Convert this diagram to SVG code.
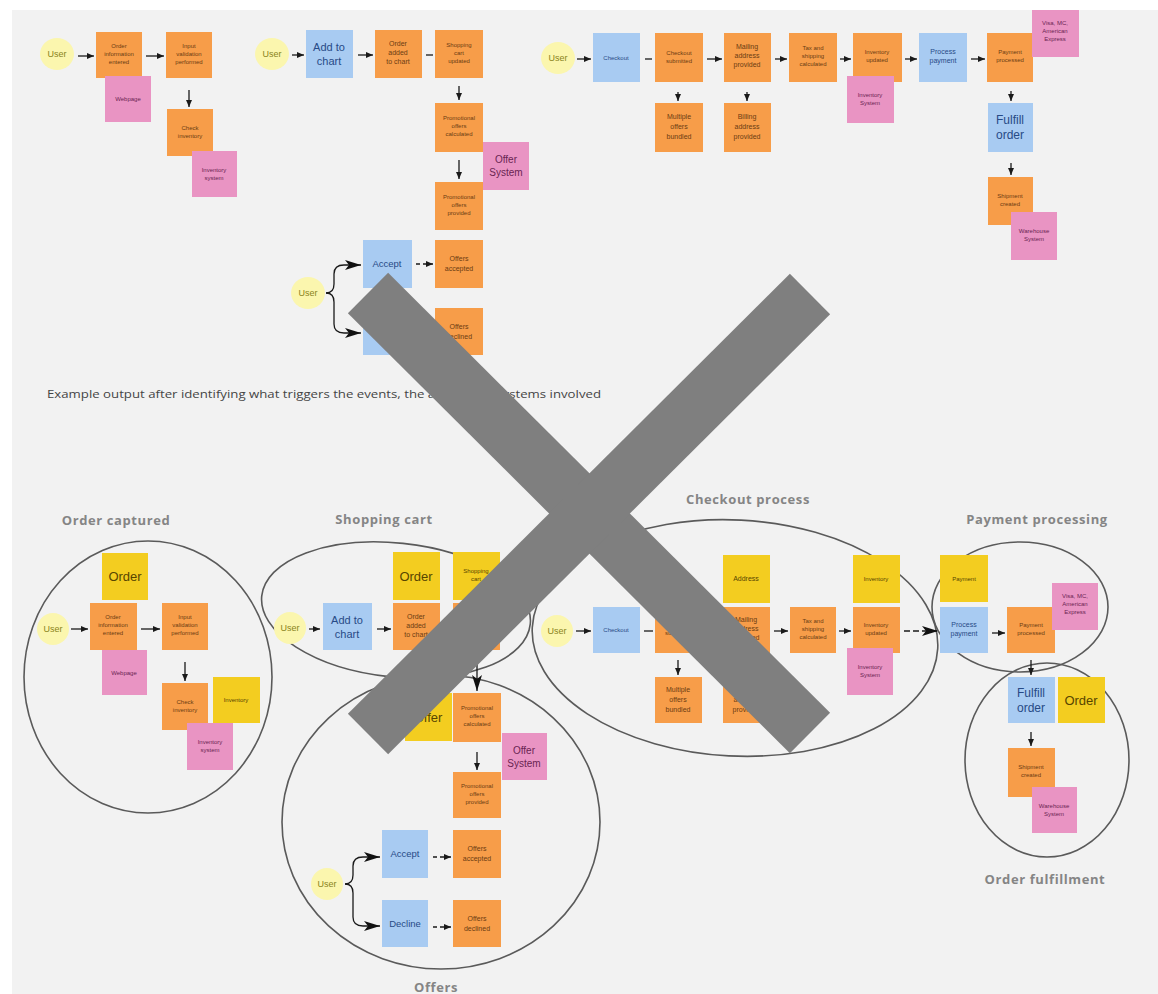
<svg xmlns="http://www.w3.org/2000/svg" width="1158" height="994" viewBox="0 0 1158 994">
<defs>
<marker id="a" markerUnits="userSpaceOnUse" markerWidth="7" markerHeight="6" refX="7" refY="3" orient="auto"><path d="M0,0 L7,3 L0,6 z" fill="#1a1a1a"/></marker>
<marker id="A" markerUnits="userSpaceOnUse" markerWidth="16" markerHeight="10" refX="16" refY="5" orient="auto"><path d="M0,0 L16,5 L0,10 L4,5 z" fill="#111"/></marker>
<style>
.o{fill:#f79d49}.b{fill:#a8cbf2}.p{fill:#e994c3}.y{fill:#f3cd20}.u{fill:#fbf6ae}
text{font-family:"Liberation Sans",Arial,sans-serif;text-anchor:middle}
.s{font-size:6px}.m{font-size:7px}.l{font-size:11px}.xl{font-size:13px}
.ot{fill:#6b3c12}.bt{fill:#274a86}.pt{fill:#6a2452}.yt{fill:#574500}.ut{fill:#8a8420;font-size:9px}
.ttl{font-family:"Open Sans","DejaVu Sans",sans-serif;font-weight:bold;font-size:13px;fill:#858585;letter-spacing:0.6px}
.cap{font-family:"Open Sans","DejaVu Sans",sans-serif;font-size:11px;fill:#444;text-anchor:start}
.c{fill:none;stroke:#1a1a1a;stroke-width:1.3}
.e{fill:none;stroke:#5a5a5a;stroke-width:1.6}
</style>
</defs>
<rect x="0" y="0" width="1158" height="994" fill="#ffffff"/>
<rect x="12" y="10" width="1146" height="984" fill="#f2f2f2"/>

<!-- ===== TOP LEFT ===== -->
<g id="tl-user"><ellipse class="u" cx="57" cy="54" rx="17" ry="16"/><text class="ut" x="57" y="57">User</text></g>
<g id="tl-order-entered"><rect class="o" x="96" y="32" width="46" height="46"/><text class="s ot" x="119" y="48">Order</text><text class="s ot" x="119" y="56">information</text><text class="s ot" x="119" y="64">entered</text></g>
<g id="tl-input-validated"><rect class="o" x="166" y="32" width="46" height="46"/><text class="s ot" x="189" y="48">Input</text><text class="s ot" x="189" y="56">validation</text><text class="s ot" x="189" y="64">performed</text></g>
<g id="tl-webpage"><rect class="p" x="105" y="76" width="46" height="46"/><text class="s pt" x="128" y="101">Webpage</text></g>
<g id="tl-check-inventory"><rect class="o" x="167" y="109" width="46" height="47"/><text class="s ot" x="190" y="130">Check</text><text class="s ot" x="190" y="138">inventory</text></g>
<g id="tl-inventory-system"><rect class="p" x="192" y="151" width="45" height="46"/><text class="s pt" x="214" y="172">Inventory</text><text class="s pt" x="214" y="180">system</text></g>

<!-- ===== TOP MIDDLE ===== -->
<g id="tm-user"><ellipse class="u" cx="272" cy="54" rx="17" ry="16"/><text class="ut" x="272" y="57">User</text></g>
<g id="tm-add-to-chart"><rect class="b" x="306" y="30" width="47" height="48"/><text class="l bt" x="329" y="51">Add to</text><text class="l bt" x="329" y="65">chart</text></g>
<g id="tm-order-added"><rect class="o" x="375" y="30" width="47" height="48"/><text class="m ot" x="398" y="46">Order</text><text class="m ot" x="398" y="55">added</text><text class="m ot" x="398" y="64">to chart</text></g>
<g id="tm-cart-updated"><rect class="o" x="435" y="30" width="48" height="48"/><text class="s ot" x="459" y="47">Shopping</text><text class="s ot" x="459" y="55">cart</text><text class="s ot" x="459" y="63">updated</text></g>
<g id="tm-offers-calc"><rect class="o" x="435" y="103" width="48" height="49"/><text class="s ot" x="459" y="120">Promotional</text><text class="s ot" x="459" y="128">offers</text><text class="s ot" x="459" y="136">calculated</text></g>
<g id="tm-offer-system"><rect class="p" x="483" y="142" width="46" height="48"/><text class="pt" style="font-size:10px" x="506" y="163">Offer</text><text class="pt" style="font-size:10px" x="506" y="176">System</text></g>
<g id="tm-offers-provided"><rect class="o" x="435" y="182" width="48" height="48"/><text class="s ot" x="459" y="199">Promotional</text><text class="s ot" x="459" y="207">offers</text><text class="s ot" x="459" y="215">provided</text></g>
<g id="tm-accept"><rect class="b" x="363" y="240" width="49" height="48"/><text class="bt" style="font-size:9.5px" x="387" y="267">Accept</text></g>
<g id="tm-offers-accepted"><rect class="o" x="435" y="240" width="48" height="48"/><text class="m ot" x="459" y="261">Offers</text><text class="m ot" x="459" y="271">accepted</text></g>
<g id="tm-decline"><rect class="b" x="363" y="308" width="49" height="47"/><text class="bt" style="font-size:9.5px" x="387" y="335">Decline</text></g>
<g id="tm-offers-declined"><rect class="o" x="435" y="308" width="48" height="47"/><text class="m ot" x="459" y="329">Offers</text><text class="m ot" x="459" y="339">declined</text></g>
<g id="tm-user2"><ellipse class="u" cx="308" cy="293" rx="17" ry="16"/><text class="ut" x="308" y="296">User</text></g>

<!-- ===== TOP RIGHT ===== -->
<g id="tr-user"><ellipse class="u" cx="558" cy="58" rx="17" ry="16"/><text class="ut" x="558" y="61">User</text></g>
<g id="tr-checkout"><rect class="b" x="593" y="33" width="47" height="49"/><text class="s bt" x="616" y="60">Checkout</text></g>
<g id="tr-checkout-submitted"><rect class="o" x="655" y="33" width="48" height="49"/><text class="s ot" x="679" y="55">Checkout</text><text class="s ot" x="679" y="63">submitted</text></g>
<g id="tr-mailing"><rect class="o" x="724" y="33" width="47" height="49"/><text class="m ot" x="747" y="49">Mailing</text><text class="m ot" x="747" y="58">address</text><text class="m ot" x="747" y="67">provided</text></g>
<g id="tr-tax"><rect class="o" x="789" y="33" width="48" height="49"/><text class="s ot" x="813" y="50">Tax and</text><text class="s ot" x="813" y="58">shipping</text><text class="s ot" x="813" y="66">calculated</text></g>
<g id="tr-inv-updated"><rect class="o" x="853" y="33" width="49" height="49"/><text class="s ot" x="877" y="54">Inventory</text><text class="s ot" x="877" y="62">updated</text></g>
<g id="tr-inv-system"><rect class="p" x="847" y="76" width="47" height="47"/><text class="s pt" x="870" y="97">Inventory</text><text class="s pt" x="870" y="105">System</text></g>
<g id="tr-process-payment"><rect class="b" x="919" y="33" width="48" height="49"/><text class="m bt" x="943" y="54">Process</text><text class="m bt" x="943" y="63">payment</text></g>
<g id="tr-payment-processed"><rect class="o" x="987" y="33" width="46" height="49"/><text class="s ot" x="1010" y="54">Payment</text><text class="s ot" x="1010" y="62">processed</text></g>
<g id="tr-visa"><rect class="p" x="1032" y="10" width="47" height="47"/><text class="s pt" x="1055" y="25">Visa, MC,</text><text class="s pt" x="1055" y="33">American</text><text class="s pt" x="1055" y="41">Express</text></g>
<g id="tr-multi-offers"><rect class="o" x="655" y="103" width="48" height="49"/><text class="m ot" x="679" y="119">Multiple</text><text class="m ot" x="679" y="129">offers</text><text class="m ot" x="679" y="139">bundled</text></g>
<g id="tr-billing"><rect class="o" x="724" y="103" width="47" height="49"/><text class="m ot" x="747" y="119">Billing</text><text class="m ot" x="747" y="129">address</text><text class="m ot" x="747" y="139">provided</text></g>
<g id="tr-fulfill"><rect class="b" x="988" y="103" width="45" height="49"/><text class="bt" style="font-size:12px" x="1010" y="124">Fulfill</text><text class="bt" style="font-size:12px" x="1010" y="139">order</text></g>
<g id="tr-shipment"><rect class="o" x="988" y="177" width="45" height="48"/><text class="s ot" x="1010" y="198">Shipment</text><text class="s ot" x="1010" y="206">created</text></g>
<g id="tr-warehouse"><rect class="p" x="1011" y="212" width="46" height="48"/><text class="s pt" x="1034" y="233">Warehouse</text><text class="s pt" x="1034" y="241">System</text></g>

<text id="caption" class="cap" x="47" y="398" textLength="554" lengthAdjust="spacingAndGlyphs">Example output after identifying what triggers the events, the actors and systems involved</text>

<!-- ===== BOTTOM: boundaries ===== -->
<g id="boundaries">
<ellipse class="e" cx="148" cy="677" rx="124" ry="136"/>
<ellipse class="e" cx="396" cy="610" rx="135" ry="67" transform="rotate(6 396 610)"/>
<ellipse class="e" cx="441" cy="822" rx="159" ry="147"/>
<ellipse class="e" cx="735" cy="638" rx="203" ry="118" transform="rotate(3 735 638)"/>
<ellipse class="e" cx="1020" cy="607" rx="88" ry="65"/>
<ellipse class="e" cx="1047" cy="760" rx="82" ry="97"/>
</g>
<g id="titles">
<text class="ttl" x="116" y="525">Order captured</text>
<text class="ttl" x="384" y="524">Shopping cart</text>
<text class="ttl" x="748" y="504">Checkout process</text>
<text class="ttl" x="1037" y="524">Payment processing</text>
<text class="ttl" x="1045" y="884">Order fulfillment</text>
<text class="ttl" x="436" y="992">Offers</text>
</g>

<!-- Order captured -->
<g id="b-oc-order"><rect class="y" x="102" y="553" width="46" height="47"/><text class="xl yt" x="125" y="581">Order</text></g>
<g id="b-oc-user"><ellipse class="u" cx="53" cy="629" rx="16" ry="16"/><text class="ut" x="53" y="632">User</text></g>
<g id="b-oc-entered"><rect class="o" x="90" y="603" width="47" height="47"/><text class="s ot" x="113" y="619">Order</text><text class="s ot" x="113" y="627">information</text><text class="s ot" x="113" y="635">entered</text></g>
<g id="b-oc-validated"><rect class="o" x="162" y="603" width="46" height="47"/><text class="s ot" x="185" y="619">Input</text><text class="s ot" x="185" y="627">validation</text><text class="s ot" x="185" y="635">performed</text></g>
<g id="b-oc-webpage"><rect class="p" x="102" y="650" width="45" height="45"/><text class="s pt" x="124" y="675">Webpage</text></g>
<g id="b-oc-check"><rect class="o" x="162" y="683" width="46" height="47"/><text class="s ot" x="185" y="704">Check</text><text class="s ot" x="185" y="712">inventory</text></g>
<g id="b-oc-inventory"><rect class="y" x="213" y="677" width="47" height="46"/><text class="s yt" x="236" y="702">Inventory</text></g>
<g id="b-oc-invsys"><rect class="p" x="187" y="723" width="46" height="47"/><text class="s pt" x="210" y="744">Inventory</text><text class="s pt" x="210" y="752">system</text></g>

<!-- Shopping cart -->
<g id="b-sc-user"><ellipse class="u" cx="290" cy="628" rx="16" ry="16"/><text class="ut" x="290" y="631">User</text></g>
<g id="b-sc-add"><rect class="b" x="323" y="603" width="49" height="47"/><text class="l bt" x="347" y="624">Add to</text><text class="l bt" x="347" y="638">chart</text></g>
<g id="b-sc-order"><rect class="y" x="393" y="552" width="47" height="48"/><text class="xl yt" x="416" y="581">Order</text></g>
<g id="b-sc-added"><rect class="o" x="393" y="603" width="47" height="47"/><text class="m ot" x="416" y="619">Order</text><text class="m ot" x="416" y="628">added</text><text class="m ot" x="416" y="637">to chart</text></g>
<g id="b-sc-cart"><rect class="y" x="453" y="552" width="47" height="48"/><text class="s yt" x="476" y="573">Shopping</text><text class="s yt" x="476" y="581">cart</text></g>
<g id="b-sc-updated"><rect class="o" x="453" y="603" width="47" height="47"/><text class="s ot" x="476" y="619">Shopping</text><text class="s ot" x="476" y="627">cart</text><text class="s ot" x="476" y="635">updated</text></g>

<!-- Offers -->
<g id="b-of-offer"><rect class="y" x="405" y="693" width="47" height="48"/><text class="xl yt" x="428" y="722">Offer</text></g>
<g id="b-of-calc"><rect class="o" x="453" y="693" width="48" height="49"/><text class="s ot" x="477" y="710">Promotional</text><text class="s ot" x="477" y="718">offers</text><text class="s ot" x="477" y="726">calculated</text></g>
<g id="b-of-system"><rect class="p" x="502" y="733" width="45" height="47"/><text class="pt" style="font-size:10px" x="524" y="754">Offer</text><text class="pt" style="font-size:10px" x="524" y="767">System</text></g>
<g id="b-of-provided"><rect class="o" x="453" y="772" width="48" height="46"/><text class="s ot" x="477" y="788">Promotional</text><text class="s ot" x="477" y="796">offers</text><text class="s ot" x="477" y="804">provided</text></g>
<g id="b-of-accept"><rect class="b" x="382" y="830" width="46" height="48"/><text class="bt" style="font-size:9.5px" x="405" y="857">Accept</text></g>
<g id="b-of-accepted"><rect class="o" x="453" y="830" width="48" height="48"/><text class="m ot" x="477" y="851">Offers</text><text class="m ot" x="477" y="861">accepted</text></g>
<g id="b-of-decline"><rect class="b" x="382" y="900" width="46" height="47"/><text class="bt" style="font-size:9.5px" x="405" y="927">Decline</text></g>
<g id="b-of-declined"><rect class="o" x="453" y="900" width="48" height="47"/><text class="m ot" x="477" y="921">Offers</text><text class="m ot" x="477" y="931">declined</text></g>
<g id="b-of-user"><ellipse class="u" cx="327" cy="884" rx="16" ry="16"/><text class="ut" x="327" y="887">User</text></g>

<!-- Checkout -->
<g id="b-co-user"><ellipse class="u" cx="557" cy="631" rx="16" ry="16"/><text class="ut" x="557" y="634">User</text></g>
<g id="b-co-checkout"><rect class="b" x="593" y="607" width="47" height="46"/><text class="s bt" x="616" y="632">Checkout</text></g>
<g id="b-co-submitted"><rect class="o" x="655" y="607" width="47" height="46"/><text class="s ot" x="678" y="627">Checkout</text><text class="s ot" x="678" y="635">submitted</text></g>
<g id="b-co-address"><rect class="y" x="723" y="555" width="47" height="48"/><text class="m yt" x="746" y="581">Address</text></g>
<g id="b-co-mailing"><rect class="o" x="723" y="607" width="47" height="46"/><text class="m ot" x="746" y="622">Mailing</text><text class="m ot" x="746" y="631">address</text><text class="m ot" x="746" y="640">provided</text></g>
<g id="b-co-tax"><rect class="o" x="790" y="607" width="46" height="46"/><text class="s ot" x="813" y="623">Tax and</text><text class="s ot" x="813" y="631">shipping</text><text class="s ot" x="813" y="639">calculated</text></g>
<g id="b-co-inventory"><rect class="y" x="853" y="555" width="47" height="48"/><text class="s yt" x="876" y="581">Inventory</text></g>
<g id="b-co-invupdated"><rect class="o" x="853" y="607" width="47" height="46"/><text class="s ot" x="876" y="627">Inventory</text><text class="s ot" x="876" y="635">updated</text></g>
<g id="b-co-invsys"><rect class="p" x="847" y="648" width="46" height="47"/><text class="s pt" x="870" y="669">Inventory</text><text class="s pt" x="870" y="677">System</text></g>
<g id="b-co-multi"><rect class="o" x="655" y="677" width="47" height="46"/><text class="m ot" x="678" y="692">Multiple</text><text class="m ot" x="678" y="702">offers</text><text class="m ot" x="678" y="712">bundled</text></g>
<g id="b-co-billing"><rect class="o" x="723" y="677" width="47" height="46"/><text class="m ot" x="746" y="692">Billing</text><text class="m ot" x="746" y="702">address</text><text class="m ot" x="746" y="712">provided</text></g>

<!-- Payment -->
<g id="b-pp-payment"><rect class="y" x="940" y="555" width="48" height="47"/><text class="s yt" x="964" y="581">Payment</text></g>
<g id="b-pp-process"><rect class="b" x="940" y="607" width="48" height="46"/><text class="m bt" x="964" y="627">Process</text><text class="m bt" x="964" y="636">payment</text></g>
<g id="b-pp-processed"><rect class="o" x="1007" y="607" width="48" height="46"/><text class="s ot" x="1031" y="627">Payment</text><text class="s ot" x="1031" y="635">processed</text></g>
<g id="b-pp-visa"><rect class="p" x="1052" y="583" width="46" height="47"/><text class="s pt" x="1075" y="598">Visa, MC,</text><text class="s pt" x="1075" y="606">American</text><text class="s pt" x="1075" y="614">Express</text></g>

<!-- Fulfillment -->
<g id="b-ff-fulfill"><rect class="b" x="1008" y="677" width="47" height="46"/><text class="bt" style="font-size:12px" x="1031" y="697">Fulfill</text><text class="bt" style="font-size:12px" x="1031" y="712">order</text></g>
<g id="b-ff-order"><rect class="y" x="1058" y="677" width="47" height="46"/><text class="xl yt" x="1081" y="705">Order</text></g>
<g id="b-ff-shipment"><rect class="o" x="1008" y="748" width="47" height="49"/><text class="s ot" x="1031" y="769">Shipment</text><text class="s ot" x="1031" y="777">created</text></g>
<g id="b-ff-warehouse"><rect class="p" x="1032" y="787" width="45" height="46"/><text class="s pt" x="1054" y="808">Warehouse</text><text class="s pt" x="1054" y="816">System</text></g>

<!-- ===== CONNECTORS ===== -->
<g id="connectors">
<line class="c" x1="78" y1="56" x2="94" y2="56" marker-end="url(#a)"/>
<line class="c" x1="146" y1="56" x2="164" y2="56" marker-end="url(#a)"/>
<line class="c" x1="189" y1="90" x2="189" y2="107" marker-end="url(#a)"/>
<line class="c" x1="292" y1="55" x2="304" y2="55" marker-end="url(#a)"/>
<line class="c" x1="358" y1="55" x2="373" y2="55" marker-end="url(#a)"/>
<line class="c" x1="426" y1="55" x2="433" y2="55"/>
<line class="c" x1="459" y1="86" x2="459" y2="100" marker-end="url(#a)"/>
<line class="c" x1="459" y1="160" x2="459" y2="179" marker-end="url(#a)"/>
<line class="c" x1="416" y1="264" x2="433" y2="264" stroke-dasharray="4 3" marker-end="url(#a)"/>
<path class="c" d="M326,293 Q334,293 334,284 L334,274 Q334,265 344,265 L361,265" marker-end="url(#A)"/>
<path class="c" d="M326,293 Q334,293 334,302 L334,324 Q334,333 344,333 L361,333" marker-end="url(#A)"/>
<line class="c" x1="577" y1="59" x2="591" y2="59" marker-end="url(#a)"/>
<line class="c" x1="645" y1="59" x2="652" y2="59"/>
<line class="c" x1="707" y1="59" x2="722" y2="59" marker-end="url(#a)"/>
<line class="c" x1="775" y1="59" x2="787" y2="59" marker-end="url(#a)"/>
<line class="c" x1="840" y1="59" x2="851" y2="59" marker-end="url(#a)"/>
<line class="c" x1="905" y1="59" x2="917" y2="59" marker-end="url(#a)"/>
<line class="c" x1="971" y1="59" x2="985" y2="59" marker-end="url(#a)"/>
<line class="c" x1="678" y1="92" x2="678" y2="101" marker-end="url(#a)"/>
<line class="c" x1="747" y1="92" x2="747" y2="101" marker-end="url(#a)"/>
<line class="c" x1="1011" y1="91" x2="1011" y2="101" marker-end="url(#a)"/>
<line class="c" x1="1011" y1="163" x2="1011" y2="175" marker-end="url(#a)"/>

<line class="c" x1="71" y1="629" x2="88" y2="629" marker-end="url(#a)"/>
<line class="c" x1="141" y1="629" x2="160" y2="629" marker-end="url(#a)"/>
<line class="c" x1="185" y1="662" x2="185" y2="681" marker-end="url(#a)"/>
<line class="c" x1="309" y1="629" x2="320" y2="629" marker-end="url(#a)"/>
<line class="c" x1="377" y1="629" x2="391" y2="629" marker-end="url(#a)"/>
<line class="c" x1="444" y1="629" x2="451" y2="629"/>
<line class="c" x1="477" y1="652" x2="477" y2="691" marker-end="url(#A)"/>
<line class="c" x1="477" y1="752" x2="477" y2="770" marker-end="url(#a)"/>
<line class="c" x1="433" y1="857" x2="451" y2="857" stroke-dasharray="4 3" marker-end="url(#a)"/>
<line class="c" x1="433" y1="927" x2="451" y2="927" stroke-dasharray="4 3" marker-end="url(#a)"/>
<path class="c" d="M345,884 Q353,884 353,875 L353,866 Q353,857 363,857 L380,857" marker-end="url(#A)"/>
<path class="c" d="M345,884 Q353,884 353,893 L353,917 Q353,926 363,926 L380,926" marker-end="url(#A)"/>
<line class="c" x1="576" y1="631" x2="591" y2="631" marker-end="url(#a)"/>
<line class="c" x1="644" y1="631" x2="653" y2="631"/>
<line class="c" x1="706" y1="631" x2="721" y2="631" marker-end="url(#a)"/>
<line class="c" x1="774" y1="631" x2="788" y2="631" marker-end="url(#a)"/>
<line class="c" x1="839" y1="631" x2="851" y2="631" marker-end="url(#a)"/>
<line class="c" x1="904" y1="631" x2="938" y2="631" stroke-dasharray="6 3" marker-end="url(#A)"/>
<line class="c" x1="678" y1="660" x2="678" y2="675" marker-end="url(#a)"/>
<line class="c" x1="747" y1="660" x2="747" y2="675" marker-end="url(#a)"/>
<line class="c" x1="992" y1="633" x2="1005" y2="633" marker-end="url(#a)"/>
<line class="c" x1="1031" y1="660" x2="1031" y2="675" marker-end="url(#a)"/>
<line class="c" x1="1031" y1="732" x2="1031" y2="746" marker-end="url(#a)"/>
</g>

<!-- grey X overlay -->
<g id="cross" stroke="#7f7f7f" stroke-width="57" stroke-linecap="butt">
<line x1="368" y1="293" x2="810" y2="733"/>
<line x1="810" y1="294" x2="368" y2="734"/>
</g>
</svg>
